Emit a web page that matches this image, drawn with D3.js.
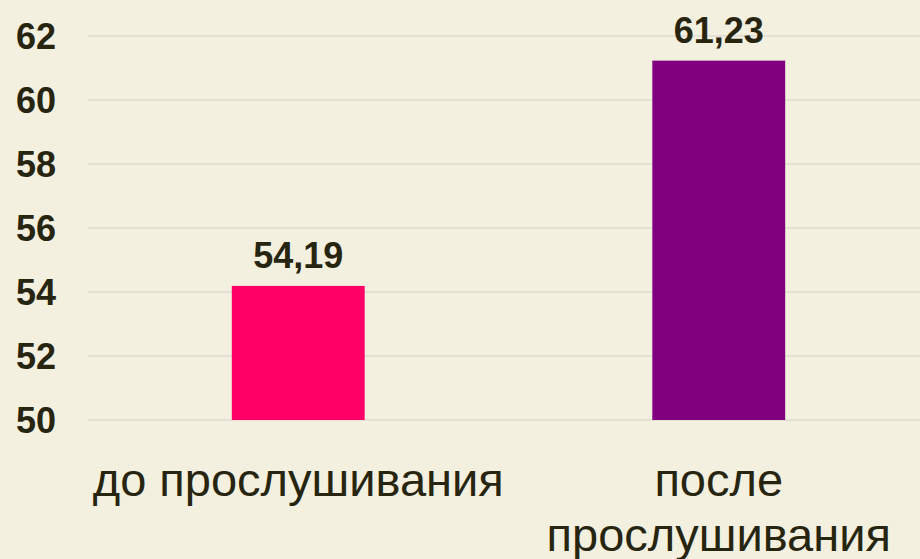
<!DOCTYPE html>
<html><head><meta charset="utf-8">
<script src="https://cdn.jsdelivr.net/npm/d3@7"></script>
<style>
html,body{margin:0;padding:0;background:#F3F0DF;}
svg{display:block;}
text{font-family:"Liberation Sans",Arial,sans-serif;fill:#27250F;}
</style></head>
<body>
<script>
const categories = [["до прослушивания"], ["после", "прослушивания"]];
const values = [54.19, 61.23];
const valueLabels = ["54,19", "61,23"];
const barColors = ["#FF0066", "#800080"];
const yTicks = [50, 52, 54, 56, 58, 60, 62];

const W = 920, H = 559;
const svg = d3.select("body").append("svg").attr("width", W).attr("height", H);
svg.append("rect").attr("width", W).attr("height", H).attr("fill", "#F3F0DF");

const x = d3.scaleBand().domain(d3.range(values.length)).range([88, 929]).paddingInner(0.684).paddingOuter(0.342);
const y = d3.scaleLinear().domain([50, 62]).range([420, 36]);

// gridlines
svg.append("g").selectAll("line").data(yTicks).join("line")
  .attr("x1", 88).attr("x2", W)
  .attr("y1", d => y(d)).attr("y2", d => y(d))
  .attr("stroke", "#E3E0D6").attr("stroke-width", 2);

// y axis labels
const yAxis = d3.axisLeft(y).tickValues(yTicks).tickSize(0).tickPadding(0).tickFormat(d3.format("d"));
const gy = svg.append("g").attr("transform", "translate(56,0)").call(yAxis);
gy.select(".domain").remove();
gy.selectAll("text").attr("font-size", 36).attr("font-weight", "bold")
  .attr("font-family", '"Liberation Sans",Arial,sans-serif').attr("fill", "#27250F").attr("dy", "0.36em");

// bars
svg.append("g").selectAll("rect").data(values).join("rect")
  .attr("x", (d, i) => x(i)).attr("width", x.bandwidth())
  .attr("y", d => y(d)).attr("height", d => y(50) - y(d))
  .attr("fill", (d, i) => barColors[i]);

// value labels
svg.append("g").selectAll("text").data(values).join("text")
  .attr("x", (d, i) => x(i) + x.bandwidth() / 2)
  .attr("y", d => y(d) - 18)
  .attr("text-anchor", "middle").attr("font-size", 36).attr("font-weight", "bold")
  .text((d, i) => valueLabels[i]);

// category labels
const cat = svg.append("g").selectAll("text").data(categories).join("text")
  .attr("x", (d, i) => x(i) + x.bandwidth() / 2)
  .attr("y", 496)
  .attr("text-anchor", "middle").attr("font-size", 47);
cat.selectAll("tspan").data(d => d).join("tspan")
  .attr("x", function() { return d3.select(this.parentNode).attr("x"); })
  .attr("dy", (d, j) => j === 0 ? 0 : 55)
  .text(d => d);
</script>
</body></html>
